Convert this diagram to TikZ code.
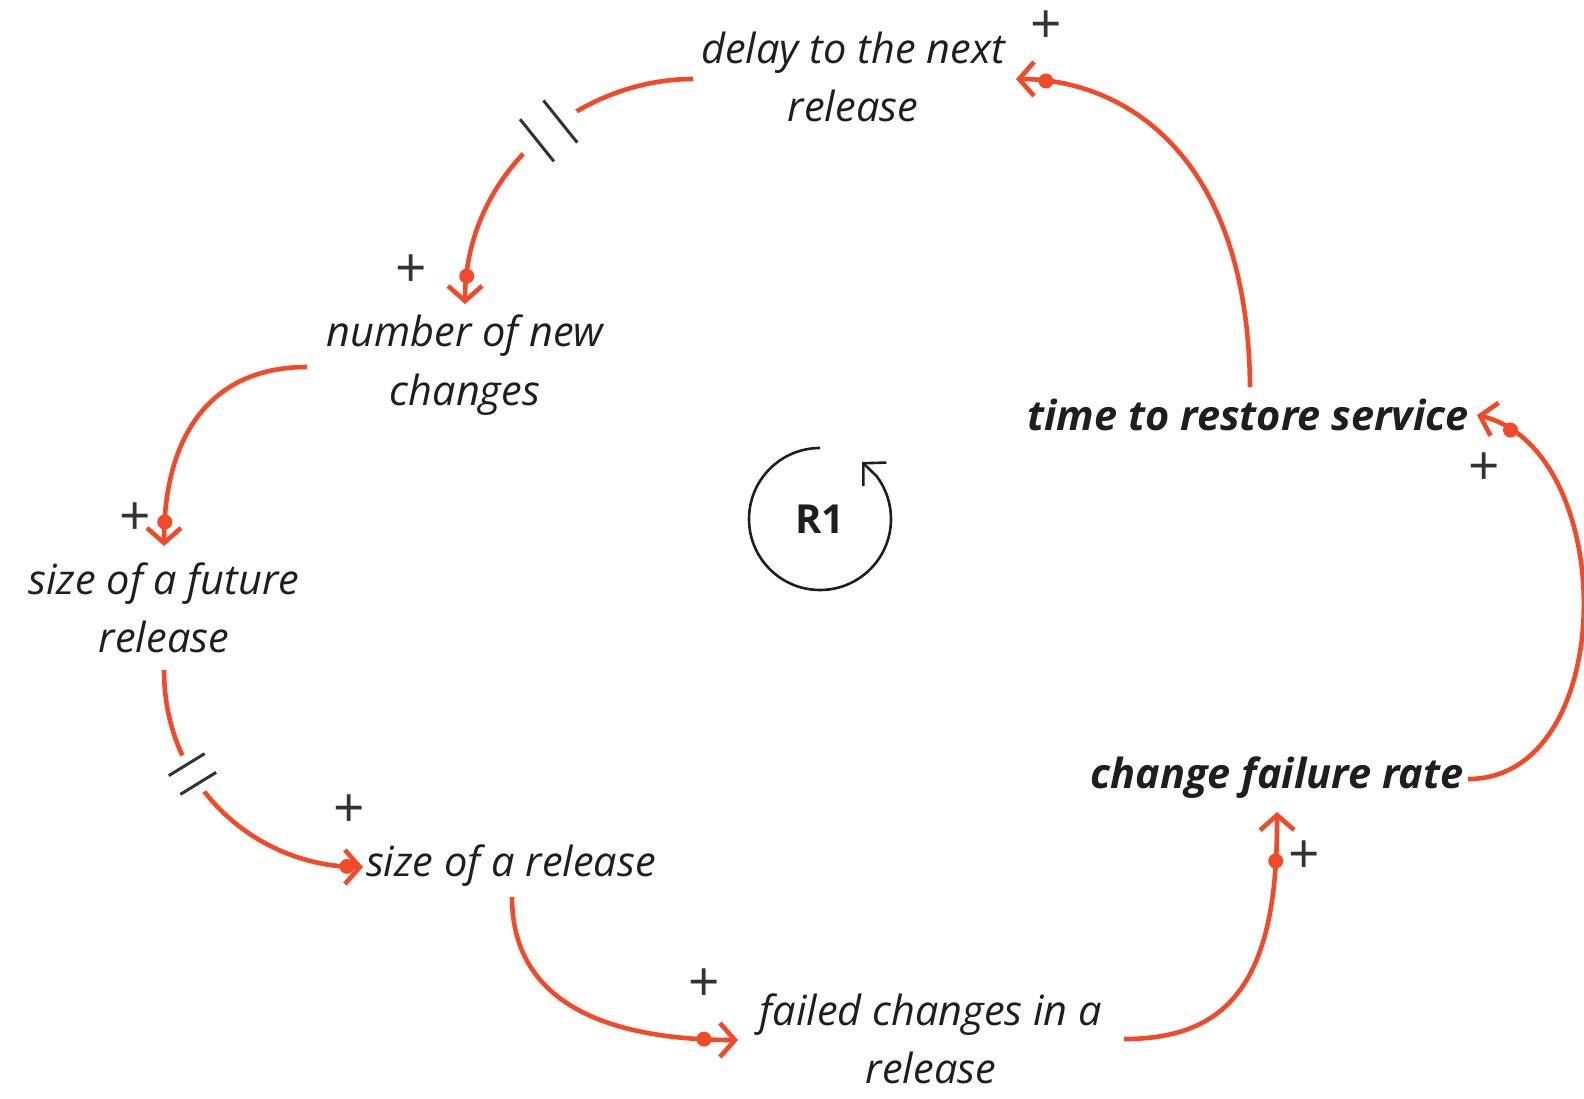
\documentclass[tikz,border=0pt]{standalone}
\usepackage{fontspec}
\setmainfont{Open Sans}
\usetikzlibrary{arrows.meta,decorations.markings,calc}
\definecolor{lk}{RGB}{242,74,40}
\definecolor{tx}{RGB}{30,30,30}
\definecolor{pc}{RGB}{51,51,51}
\begin{document}
\begin{tikzpicture}[x=1pt,y=-1pt,
  lbl/.style={font=\fontsize{41.5}{58.5}\selectfont\itshape, text=tx, align=center, inner sep=0pt},
  blbl/.style={font=\fontsize{41.5}{58.5}\selectfont\bfseries\itshape, text=tx, align=center, inner sep=0pt},
  pl/.style={font=\fontsize{55}{55}\selectfont, text=pc, inner sep=0pt},
  link/.style={draw=lk, line width=4.6pt, -{Straight Barb[length=15pt,width=34pt,line width=4.6pt]}},
  dotat/.style={postaction={decorate,decoration={markings,mark=at position -#1 with {\fill[lk] (0,0) circle (7.5pt);}}}},
  delaymk/.style n args={4}{postaction={decorate,decoration={markings,mark=at position #1 with {\fill[white] (-#4,-8pt) rectangle (#4,8pt); \draw[pc, line width=3pt, arrows=-] (-#2,-#3)--(-#2,#3) (#2,-#3)--(#2,#3);}}}}
]
\fill[white] (0,0) rectangle (1584,1099);
\useasboundingbox (0,0) rectangle (1584,1099);

% variables
\node[lbl] (delay) at (853,77) {delay to the next\\release};
\node[lbl] (nnc) at (465,365) {number of new\\changes};
\node[lbl] (sfr) at (164,608) {size of a future\\release};
\node[lbl] (sor) at (511,866) {size of a release};
\node[lbl] (fcr) at (931,1039) {failed changes in a\\release};
\node[blbl] (cfr) at (1277,778) {change failure rate};
\node[blbl] (trs) at (1248,415) {time to restore service};

% loop marker
\node[font=\fontsize{40}{40}\selectfont\bfseries, text=tx, inner sep=0pt] (r1) at (820,519) {R1};
\draw[line width=2.6pt, tx, -{Straight Barb[length=16pt,width=33pt,line width=2.6pt]}]
  ($(r1)+(0,-71)$) arc[start angle=270, end angle=-37, radius=71] -- ($(r1)+(42,-57)$);

% links
\draw[link, dotat=28pt, delaymk={0.44}{15pt}{27pt}{34pt}] ($(delay)+(-160,2)$) .. controls +(-113,0) and +(0,-134) .. ($(nnc)+(0,-61)$);
\draw[link, dotat=24pt] ($(nnc)+(-158,2)$) .. controls +(-92,0) and +(0,-116) .. ($(sfr)+(0,-62)$);
\draw[link, dotat=16pt, delaymk={0.35}{11pt}{21pt}{21pt}] ($(sfr)+(0,62)$) .. controls +(0,120) and +(-103,0) .. ($(sor)+(-148,1)$);
\draw[link, dotat=34pt] ($(sor)+(1,31)$) .. controls +(0,113) and +(-118,0) .. ($(fcr)+(-193,1)$);
\draw[link, dotat=49pt] ($(fcr)+(193,0)$) .. controls +(106,0) and +(1,168) .. ($(cfr)+(0,34)$);
\draw[link, dotat=37pt] ($(cfr)+(191,1)$) .. controls +(152,0) and +(143,35) .. ($(trs)+(229,0)$);
\draw[link, dotat=30pt] ($(trs)+(2,-28)$) .. controls +(-2,-237) and +(104,0) .. ($(delay)+(163,2)$);

% polarities
\node[pl] (p1) at (1046,27) {+};
\node[pl] (p2) at (411,271) {+};
\node[pl] (p3) at (135,519) {+};
\node[pl] (p4) at (349,811) {+};
\node[pl] (p5) at (704,985) {+};
\node[pl] (p6) at (1304,857) {+};
\node[pl] (p7) at (1484,469) {+};
\end{tikzpicture}
\end{document}
